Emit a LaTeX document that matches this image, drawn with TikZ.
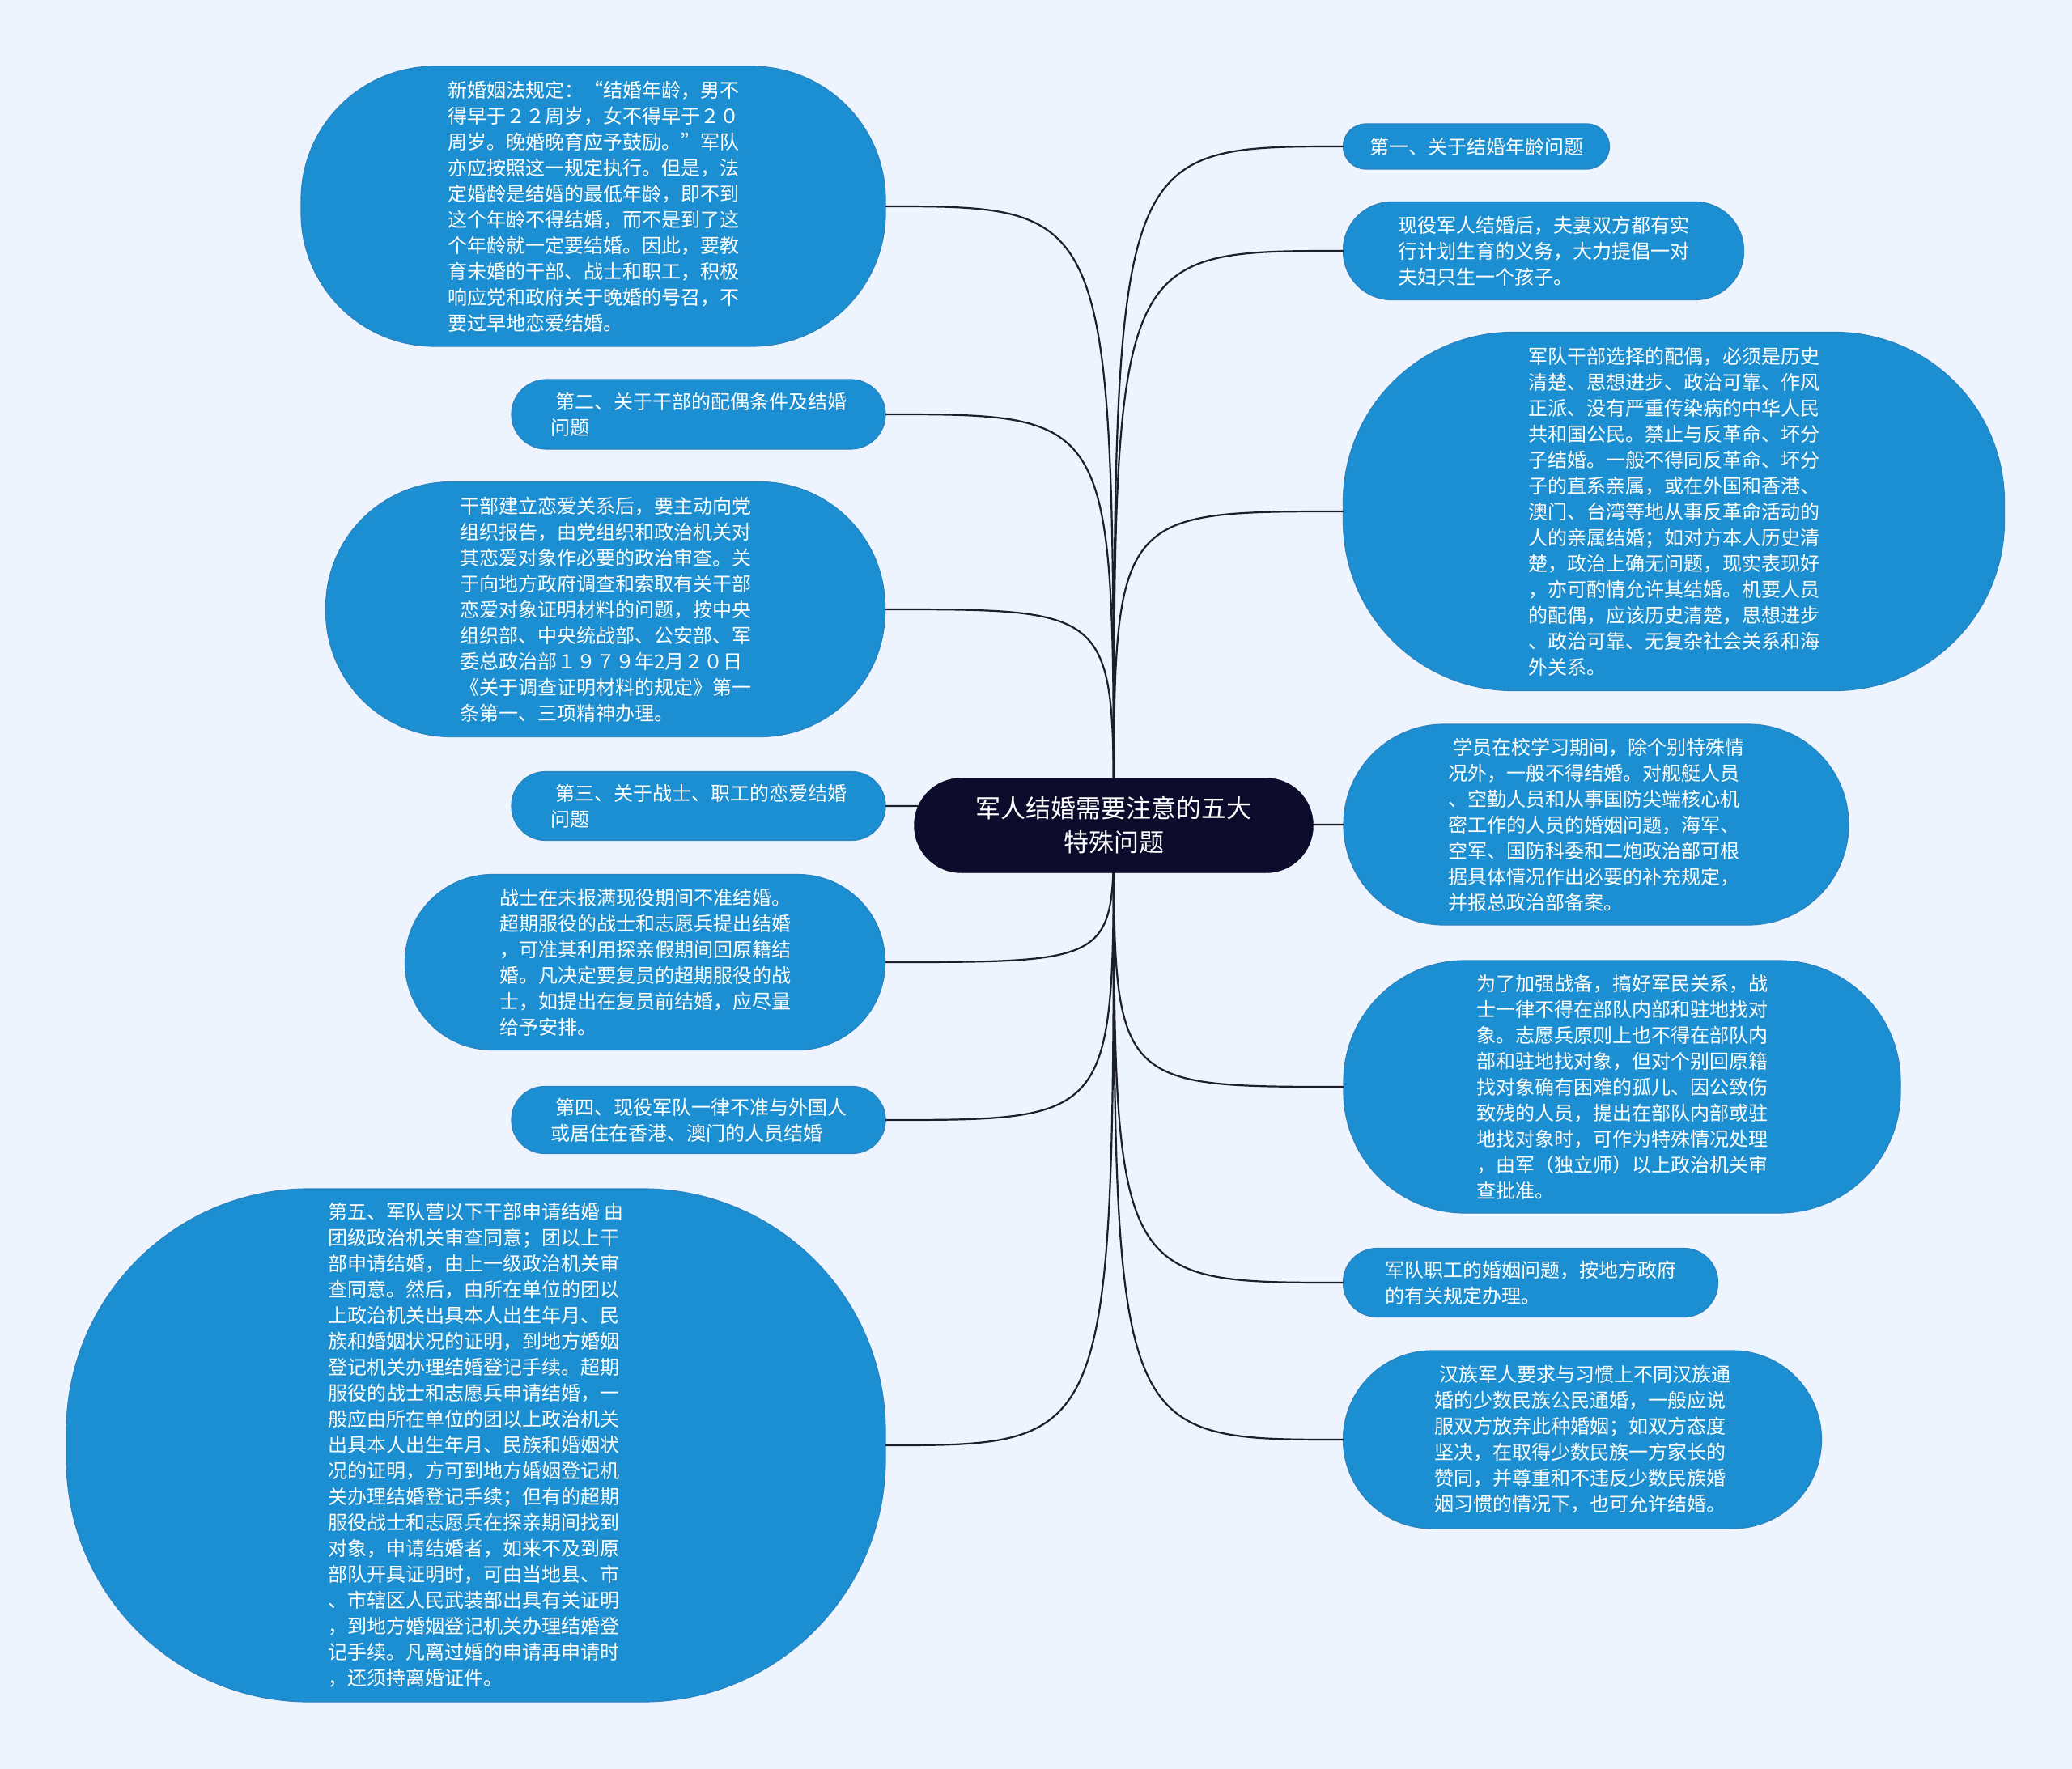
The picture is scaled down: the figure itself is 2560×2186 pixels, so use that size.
\documentclass[tikz,border=0pt]{standalone}
\usepackage{fontspec}
\newfontfamily\cjk{Noto Sans CJK SC}
\usepackage{xcolor}
\usepackage{tikz}
\usetikzlibrary{calc}

\definecolor{bgblue}{HTML}{EEF4FD}
\definecolor{nodeblue}{HTML}{1B8FD2}
\definecolor{nodeedge}{HTML}{2A82BF}
\definecolor{hubnavy}{HTML}{0D0B2B}
\definecolor{linkgray}{HTML}{1E1E2A}

\begin{document}
\begin{tikzpicture}[x=1pt, y=-1pt, line cap=round, line join=round,
  topic/.style={draw=nodeedge, line width=1.2pt, fill=nodeblue, text=white,
    align=left, inner sep=0pt, font=\cjk\fontsize{24}{32}\selectfont},
  hubbox/.style={draw=hubnavy, fill=hubnavy, text=white, align=center,
    inner sep=0pt, font=\cjk\fontsize{31}{42}\selectfont},
  link/.style={draw=linkgray, line width=2.2pt}]

% Sfondo
\fill[bgblue] (0,0) rectangle (2560,2186);
\useasboundingbox (0,0) rectangle (2560,2186);

% Rami a sinistra
\node[topic, minimum width=722pt, minimum height=346pt, rounded corners=165pt] (ageLaw) at (733,255)
  {新婚姻法规定：“结婚年龄，男不\\得早于２２周岁，女不得早于２０\\周岁。晚婚晚育应予鼓励。”军队\\亦应按照这一规定执行。但是，法\\定婚龄是结婚的最低年龄，即不到\\这个年龄不得结婚，而不是到了这\\个年龄就一定要结婚。因此，要教\\育未婚的干部、战士和职工，积极\\响应党和政府关于晚婚的号召，不\\要过早地恋爱结婚。};
\node[topic, minimum width=462pt, minimum height=86pt, rounded corners=43pt] (q2) at (863,512)
  {\hspace*{6pt}第二、关于干部的配偶条件及结婚\\问题};
\node[topic, minimum width=691pt, minimum height=315pt, rounded corners=155pt] (cadreReport) at (748,753)
  {干部建立恋爱关系后，要主动向党\\组织报告，由党组织和政治机关对\\其恋爱对象作必要的政治审查。关\\于向地方政府调查和索取有关干部\\恋爱对象证明材料的问题，按中央\\组织部、中央统战部、公安部、军\\委总政治部１９７９年2月２０日\\《关于调查证明材料的规定》第一\\条第一、三项精神办理。};
\node[topic, minimum width=462pt, minimum height=85pt, rounded corners=42pt] (q3) at (863,996)
  {\hspace*{6pt}第三、关于战士、职工的恋爱结婚\\问题};
\node[topic, minimum width=593pt, minimum height=217pt, rounded corners=108pt] (soldierRule) at (797,1189)
  {战士在未报满现役期间不准结婚。\\超期服役的战士和志愿兵提出结婚\\，可准其利用探亲假期间回原籍结\\婚。凡决定要复员的超期服役的战\\士，如提出在复员前结婚，应尽量\\给予安排。};
\node[topic, minimum width=462pt, minimum height=83pt, rounded corners=41pt] (q4) at (863,1384)
  {\hspace*{6pt}第四、现役军队一律不准与外国人\\或居住在香港、澳门的人员结婚};
\node[topic, minimum width=1012pt, minimum height=634pt, rounded corners=300pt] (q5) at (588,1786)
  {第五、军队营以下干部申请结婚 由\\团级政治机关审查同意；团以上干\\部申请结婚，由上一级政治机关审\\查同意。然后，由所在单位的团以\\上政治机关出具本人出生年月、民\\族和婚姻状况的证明，到地方婚姻\\登记机关办理结婚登记手续。超期\\服役的战士和志愿兵申请结婚，一\\般应由所在单位的团以上政治机关\\出具本人出生年月、民族和婚姻状\\况的证明，方可到地方婚姻登记机\\关办理结婚登记手续；但有的超期\\服役战士和志愿兵在探亲期间找到\\对象，申请结婚者，如来不及到原\\部队开具证明时，可由当地县、市\\、市辖区人民武装部出具有关证明\\，到地方婚姻登记机关办理结婚登\\记手续。凡离过婚的申请再申请时\\，还须持离婚证件。};

% Rami a destra
\node[topic, minimum width=329pt, minimum height=56pt, rounded corners=28pt] (q1) at (1824,181)
  {第一、关于结婚年龄问题};
\node[topic, minimum width=495pt, minimum height=121pt, rounded corners=60pt] (birthPlan) at (1907,310)
  {现役军人结婚后，夫妻双方都有实\\行计划生育的义务，大力提倡一对\\夫妇只生一个孩子。};
\node[topic, minimum width=817pt, minimum height=443pt, rounded corners=210pt] (spouseReq) at (2068,632)
  {军队干部选择的配偶，必须是历史\\清楚、思想进步、政治可靠、作风\\正派、没有严重传染病的中华人民\\共和国公民。禁止与反革命、坏分\\子结婚。一般不得同反革命、坏分\\子的直系亲属，或在外国和香港、\\澳门、台湾等地从事反革命活动的\\人的亲属结婚；如对方本人历史清\\楚，政治上确无问题，现实表现好\\，亦可酌情允许其结婚。机要人员\\的配偶，应该历史清楚，思想进步\\、政治可靠、无复杂社会关系和海\\外关系。};
\node[topic, minimum width=624pt, minimum height=248pt, rounded corners=124pt] (cadetRule) at (1972,1019)
  {\hspace*{6pt}学员在校学习期间，除个别特殊情\\况外，一般不得结婚。对舰艇人员\\、空勤人员和从事国防尖端核心机\\密工作的人员的婚姻问题，海军、\\空军、国防科委和二炮政治部可根\\据具体情况作出必要的补充规定，\\并报总政治部备案。};
\node[topic, minimum width=688pt, minimum height=312pt, rounded corners=150pt] (localRule) at (2004,1343)
  {为了加强战备，搞好军民关系，战\\士一律不得在部队内部和驻地找对\\象。志愿兵原则上也不得在部队内\\部和驻地找对象，但对个别回原籍\\找对象确有困难的孤儿、因公致伤\\致残的人员，提出在部队内部或驻\\地找对象时，可作为特殊情况处理\\，由军（独立师）以上政治机关审\\查批准。};
\node[topic, minimum width=463pt, minimum height=85pt, rounded corners=42pt] (staffRule) at (1891,1585)
  {军队职工的婚姻问题，按地方政府\\的有关规定办理。};
\node[topic, minimum width=591pt, minimum height=220pt, rounded corners=110pt] (ethnicRule) at (1955,1779)
  {\hspace*{6pt}汉族军人要求与习惯上不同汉族通\\婚的少数民族公民通婚，一般应说\\服双方放弃此种婚姻；如双方态度\\坚决，在取得少数民族一方家长的\\赞同，并尊重和不违反少数民族婚\\姻习惯的情况下，也可允许结婚。};

% Collegamenti
\coordinate (hub) at (1376,1020);
\foreach \n in {ageLaw,q2,cadreReport,q3,soldierRule,q4,q5}
  \draw[link] (hub) .. controls (hub |- \n.east) .. (\n.east);
\foreach \n in {q1,birthPlan,spouseReq,cadetRule,localRule,staffRule,ethnicRule}
  \draw[link] (hub) .. controls (hub |- \n.west) .. (\n.west);

% Nodo centrale
\node[hubbox, minimum width=493pt, minimum height=117pt, rounded corners=58pt] (title) at (hub)
  {军人结婚需要注意的五大\\特殊问题};

\end{tikzpicture}
\end{document}
